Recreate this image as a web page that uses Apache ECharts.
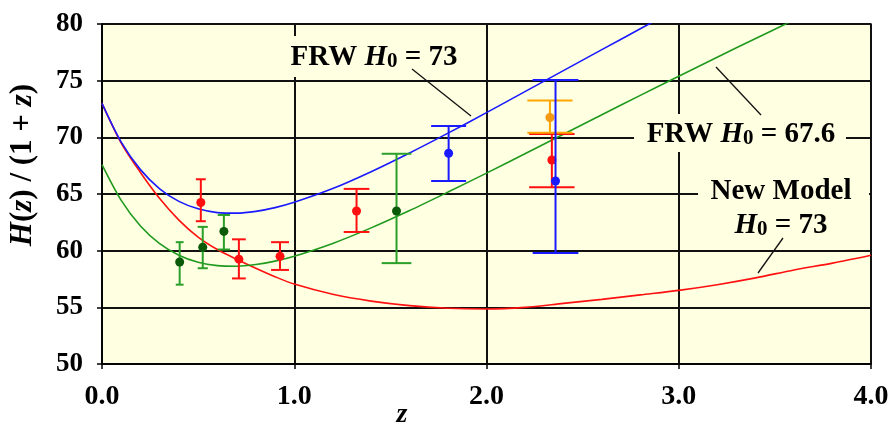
<!DOCTYPE html>
<html>
<head>
<meta charset="utf-8">
<script src="https://cdn.jsdelivr.net/npm/echarts@6/dist/echarts.min.js"></script>
<style>
  html, body { margin: 0; padding: 0; background: #fff; }
  #chart { width: 893px; height: 426px; }
</style>
</head>
<body>
<div id="chart"></div>
<script>
// model curves
const curveZ = [0, 0.1, 0.2, 0.3, 0.4, 0.5, 0.6, 0.7, 0.8, 0.9, 1.0,
  1.2, 1.4, 1.6, 1.8, 2.0, 2.2, 2.4, 2.6, 2.8, 3.0, 3.2, 3.4, 3.6, 3.8, 4.0];
const frw73 = [73.0, 69.58, 67.15, 65.46, 64.35, 63.69, 63.36, 63.31, 63.47, 63.80, 64.27,
  65.48, 66.97, 68.62, 70.37, 72.18, 74.03, 75.89, 77.74, 79.58, 81.41, null, null, null, null, null];
const frw676 = [67.6, 64.44, 62.18, 60.62, 59.60, 58.97, 58.68, 58.63, 58.78, 59.08, 59.51,
  60.64, 62.01, 63.54, 65.17, 66.84, 68.55, 70.27, 71.99, 73.70, 75.39, 77.07, 78.72, 80.36, null, null];
const newModel = [73.0, 69.5, 66.9, 64.6, 62.7, 61.2, 60.1, 59.25, 58.45, 57.7, 57.05,
  56.15, 55.55, 55.15, 54.92, 54.85, 55.0, 55.35, 55.7, 56.1, 56.5, 57.0, 57.6, 58.3, 58.9, 59.6];

// measurements: [z, H/(1+z), low, high]
const greenPts = [[0.404, 59.0, 57.0, 60.75], [0.524, 60.3, 58.45, 62.1],
  [0.634, 61.7, 60.1, 63.15], [1.532, 63.5, 58.9, 68.55]];
const redPts = [[0.514, 64.25, 62.6, 66.3], [0.712, 59.25, 57.55, 61.0], [0.926, 59.5, 58.3, 60.75],
  [1.324, 63.5, 61.65, 65.45], [2.34, 68.0, 65.6, 70.3]];
const orangePts = [[2.33, 71.75, 70.4, 73.25]];
const bluePts = [[1.803, 68.6, 66.15, 71.0], [2.359, 66.15, 59.8, 75.05]];

const xTicks = ['0.0', '1.0', '2.0', '3.0', '4.0'];
const yTicks = [50, 55, 60, 65, 70, 75, 80];

const serif = '"Liberation Serif", "Times New Roman", serif';
const bg = '#FFFFE1';

function pairs(zs, hs) {
  return zs.map((z, i) => [z, hs[i]]);
}

function errBars(color, dot) {
  return function (params, api) {
    const z = api.value(0);
    const p = api.coord([z, api.value(1)]);
    const lo = api.coord([z, api.value(2)]);
    const hi = api.coord([z, api.value(3)]);
    const cw = 9.7 * z;
    const st = { stroke: color, lineWidth: 2 };
    return {
      type: 'group',
      children: [
        { type: 'line', shape: { x1: p[0], y1: hi[1], x2: p[0], y2: lo[1] }, style: st },
        { type: 'line', shape: { x1: p[0] - cw, y1: hi[1], x2: p[0] + cw, y2: hi[1] }, style: st },
        { type: 'line', shape: { x1: p[0] - cw, y1: lo[1], x2: p[0] + cw, y2: lo[1] }, style: st },
        { type: 'circle', shape: { cx: p[0], cy: p[1], r: 4.5 }, style: { fill: dot } }
      ]
    };
  };
}

function curve(data, color) {
  return {
    type: 'line', data: data, showSymbol: false, smooth: 0.3,
    lineStyle: { color: color, width: 1.6 }, itemStyle: { color: color },
    silent: true, z: 2
  };
}

function bars(data, color, dot) {
  return {
    type: 'custom', data: data, renderItem: errBars(color, dot),
    encode: { x: 0, y: 1 }, silent: true, z: 4
  };
}

function richAt(size) {
  return {
    n: { fontFamily: serif, fontWeight: 'bold', fontSize: size, color: '#000' },
    i: { fontFamily: serif, fontWeight: 'bold', fontStyle: 'italic', fontSize: size, color: '#000' },
    s: { fontFamily: serif, fontWeight: 'bold', fontSize: Math.round(size * 0.72), color: '#000', verticalAlign: 'bottom', padding: [8, 0, 0, 0] }
  };
}

function label(text, x, y) {
  return {
    type: 'text', x: x, y: y, z: 10,
    style: { text: text, rich: richAt(29), align: 'center', verticalAlign: 'middle' }
  };
}

function mask(x, y, w, h) {
  return { type: 'rect', z: 1, shape: { x: x, y: y, width: w, height: h }, style: { fill: bg } };
}

function leader(x1, y1, x2, y2) {
  return { type: 'line', z: 10, shape: { x1: x1, y1: y1, x2: x2, y2: y2 }, style: { stroke: '#111', lineWidth: 1.3 } };
}

const chart = echarts.init(document.getElementById('chart'));
chart.setOption({
  animation: false,
  backgroundColor: '#fff',
  grid: { left: 102, right: 22, top: 24, bottom: 62, show: true, backgroundColor: bg, borderColor: '#222', borderWidth: 1.5 },
  xAxis: {
    type: 'value', min: 0, max: 4, interval: 1,
    axisLine: { lineStyle: { color: '#000', width: 1.5 } },
    axisTick: { show: true, length: 5, lineStyle: { color: '#000', width: 1.5 } },
    splitLine: { show: true, lineStyle: { color: '#111', width: 2 } },
    axisLabel: {
      margin: 19, color: '#000', fontFamily: serif, fontWeight: 'bold', fontSize: 28,
      formatter: v => xTicks[Math.round(v)]
    }
  },
  yAxis: {
    type: 'value', min: 50, max: 80, interval: 5,
    axisLine: { show: true, lineStyle: { color: '#000', width: 1.5 } },
    axisTick: { show: true, length: 5, lineStyle: { color: '#000', width: 1.5 } },
    splitLine: { show: true, lineStyle: { color: '#111', width: 2 } },
    axisLabel: {
      margin: 19, color: '#000', fontFamily: serif, fontWeight: 'bold', fontSize: 27,
      formatter: v => String(yTicks[Math.round((v - 50) / 5)])
    }
  },
  series: [
    curve(pairs(curveZ, newModel), '#ff1010'),
    curve(pairs(curveZ, frw676), '#1f9a1f'),
    curve(pairs(curveZ, frw73), '#1a1aff'),
    bars(greenPts, '#2aa02a', '#0a5a0a'),
    bars(redPts, '#ff1010', '#ff1010'),
    bars(orangePts, '#ffa500', '#f59a10'),
    bars(bluePts, '#1a1aff', '#1a1aff')
  ],
  graphic: [
    mask(280, 36, 188, 41),
    mask(634, 114, 212, 38),
    mask(698, 172, 171, 73),
    label('{n|FRW }{i|H}{s|0}{n| = 73}', 374, 58),
    label('{n|FRW }{i|H}{s|0}{n| = 67.6}', 741, 135),
    label('{n|New Model}', 781, 192),
    label('{i|H}{s|0}{n| = 73}', 781, 226),
    leader(412, 69, 471, 116),
    leader(716, 67, 761, 115),
    leader(783, 238, 758, 273),
    {
      type: 'text', x: 23, y: 165, rotation: Math.PI / 2, z: 10,
      style: { text: '{i|H}{n|(}{i|z}{n|) / (1 + }{i|z}{n|)}', rich: richAt(31), align: 'center', verticalAlign: 'middle' }
    },
    {
      type: 'text', x: 402, y: 415, z: 10,
      style: { text: 'z', fontFamily: serif, fontWeight: 'bold', fontStyle: 'italic', fontSize: 28, fill: '#000', align: 'center', verticalAlign: 'middle' }
    }
  ]
});
</script>
</body>
</html>
